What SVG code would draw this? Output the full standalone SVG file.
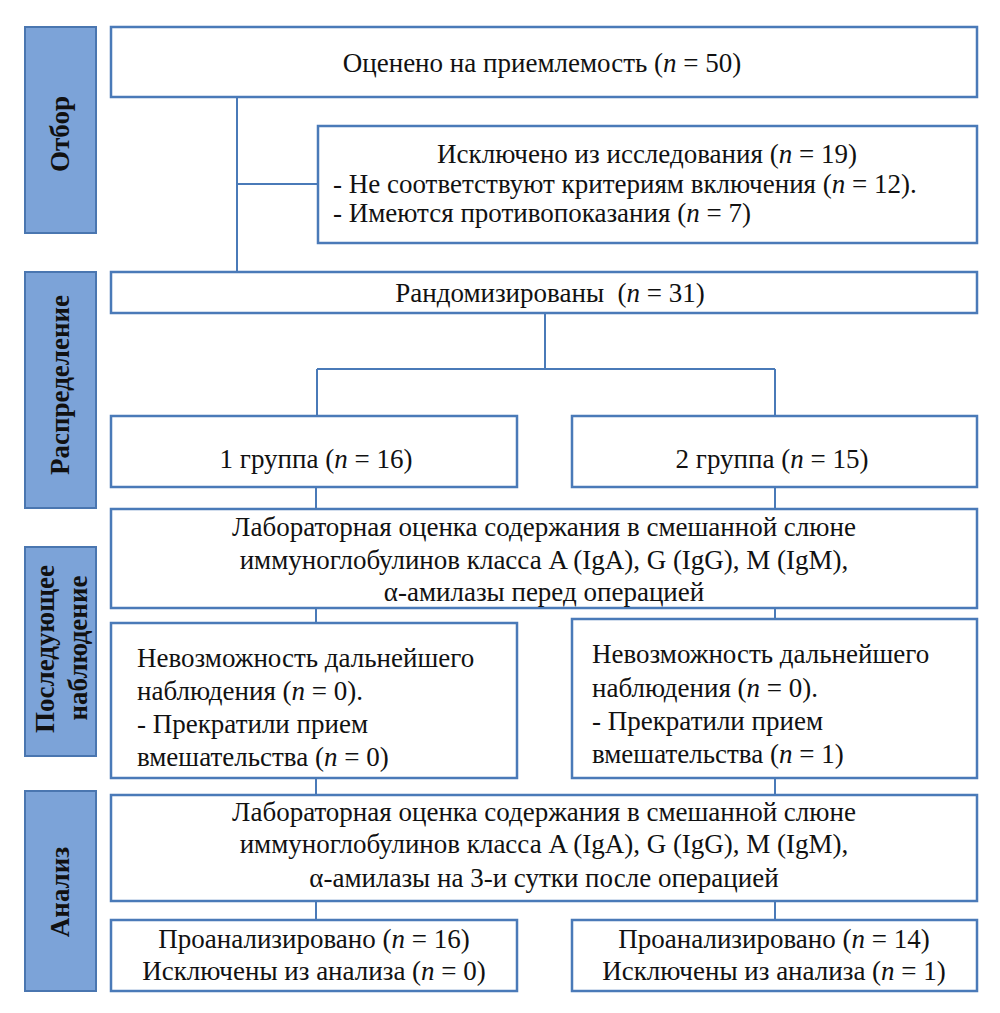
<svg xmlns="http://www.w3.org/2000/svg" width="1000" height="1013" viewBox="0 0 1000 1013">
<style>
.box{fill:#ffffff;stroke:#4a7ab8;stroke-width:2.5}
.side{fill:#7ca3d8;stroke:#4a76b0;stroke-width:2}
.t{font-family:Liberation Serif,serif;font-size:27px;fill:#111}
.c{text-anchor:middle}
.s{font-family:Liberation Serif,serif;font-size:27px;font-weight:bold;fill:#111;text-anchor:middle}
.i{font-style:italic}
.ln{stroke:#4a7ab8;stroke-width:2;fill:none}
</style>
<rect width="1000" height="1013" fill="#ffffff"/>
<g font-family="Liberation Serif, serif">
<g id="side-otbor"><rect class="side" x="25" y="27" width="71" height="206"/><text class="s" transform="translate(69,134) rotate(-90)">Отбор</text></g>
<g id="side-raspredelenie"><rect class="side" x="25" y="272" width="71" height="236"/><text class="s" transform="translate(69,385) rotate(-90)">Распределение</text></g>
<g id="side-nablyudenie"><rect class="side" x="25" y="547" width="71" height="209"/><text class="s" transform="translate(54,649) rotate(-90)">Последующее</text><text class="s" transform="translate(87,648) rotate(-90)">наблюдение</text></g>
<g id="side-analiz"><rect class="side" x="25" y="791" width="71" height="200"/><text class="s" transform="translate(69,892) rotate(-90)">Анализ</text></g>
<g id="connectors">
<path class="ln" d="M237 97 V272 M237 184 H318"/>
<path class="ln" d="M545 313 V369 M317 369 H775 M317 369 V416 M775 369 V416"/>
<path class="ln" d="M316 487 V509 M775 487 V509"/>
<path class="ln" d="M316 608 V623 M775 608 V619"/>
<path class="ln" d="M316 778 V795 M775 778 V795"/>
<path class="ln" d="M316 901 V920 M775 901 V920"/>
</g>
<g id="n-assessed"><rect class="box" x="111" y="27" width="866" height="70"/><text class="t c" x="542" y="72">Оценено на приемлемость (<tspan class="i">n</tspan> = 50)</text></g>
<g id="n-excluded"><rect class="box" x="318" y="126" width="659" height="117"/><text class="t c" x="647" y="163">Исключено из исследования (<tspan class="i">n</tspan> = 19)</text><text class="t" x="333" y="193">- Не соответствуют критериям включения (<tspan class="i">n</tspan> = 12).</text><text class="t" x="333" y="222">- Имеются противопоказания (<tspan class="i">n</tspan> = 7)</text></g>
<g id="n-randomized"><rect class="box" x="111" y="272" width="866" height="41"/><text class="t c" x="550" y="302" xml:space="preserve">Рандомизированы  (<tspan class="i">n</tspan> = 31)</text></g>
<g id="n-group1"><rect class="box" x="111" y="416" width="406" height="71"/><text class="t c" x="316" y="468">1 группа (<tspan class="i">n</tspan> = 16)</text></g>
<g id="n-group2"><rect class="box" x="572" y="416" width="405" height="71"/><text class="t c" x="772" y="468">2 группа (<tspan class="i">n</tspan> = 15)</text></g>
<g id="n-lab1"><rect class="box" x="111" y="509" width="866" height="99"/><text class="t c" x="544" y="536">Лабораторная оценка содержания в смешанной слюне</text><text class="t c" x="544" y="569">иммуноглобулинов класса A (IgA), G (IgG), M (IgM),</text><text class="t c" x="544" y="601">α-амилазы перед операцией</text></g>
<g id="n-lost1"><rect class="box" x="111" y="623" width="406" height="155"/><text class="t" x="137" y="667">Невозможность дальнейшего</text><text class="t" x="137" y="700">наблюдения (<tspan class="i">n</tspan> = 0).</text><text class="t" x="137" y="733">- Прекратили прием</text><text class="t" x="137" y="766">вмешательства (<tspan class="i">n</tspan> = 0)</text></g>
<g id="n-lost2"><rect class="box" x="572" y="619" width="405" height="159"/><text class="t" x="592" y="663">Невозможность дальнейшего</text><text class="t" x="592" y="697">наблюдения (<tspan class="i">n</tspan> = 0).</text><text class="t" x="592" y="730">- Прекратили прием</text><text class="t" x="592" y="763">вмешательства (<tspan class="i">n</tspan> = 1)</text></g>
<g id="n-lab2"><rect class="box" x="111" y="795" width="866" height="106"/><text class="t c" x="544" y="821">Лабораторная оценка содержания в смешанной слюне</text><text class="t c" x="544" y="853">иммуноглобулинов класса A (IgA), G (IgG), M (IgM),</text><text class="t c" x="544" y="887">α-амилазы на 3-и сутки после операцией</text></g>
<g id="n-analyzed1"><rect class="box" x="111" y="920" width="406" height="71"/><text class="t c" x="314" y="948">Проанализировано (<tspan class="i">n</tspan> = 16)</text><text class="t c" x="314" y="980">Исключены из анализа (<tspan class="i">n</tspan> = 0)</text></g>
<g id="n-analyzed2"><rect class="box" x="572" y="920" width="405" height="71"/><text class="t c" x="774" y="948">Проанализировано (<tspan class="i">n</tspan> = 14)</text><text class="t c" x="774" y="980">Исключены из анализа (<tspan class="i">n</tspan> = 1)</text></g>
</g>
</svg>
